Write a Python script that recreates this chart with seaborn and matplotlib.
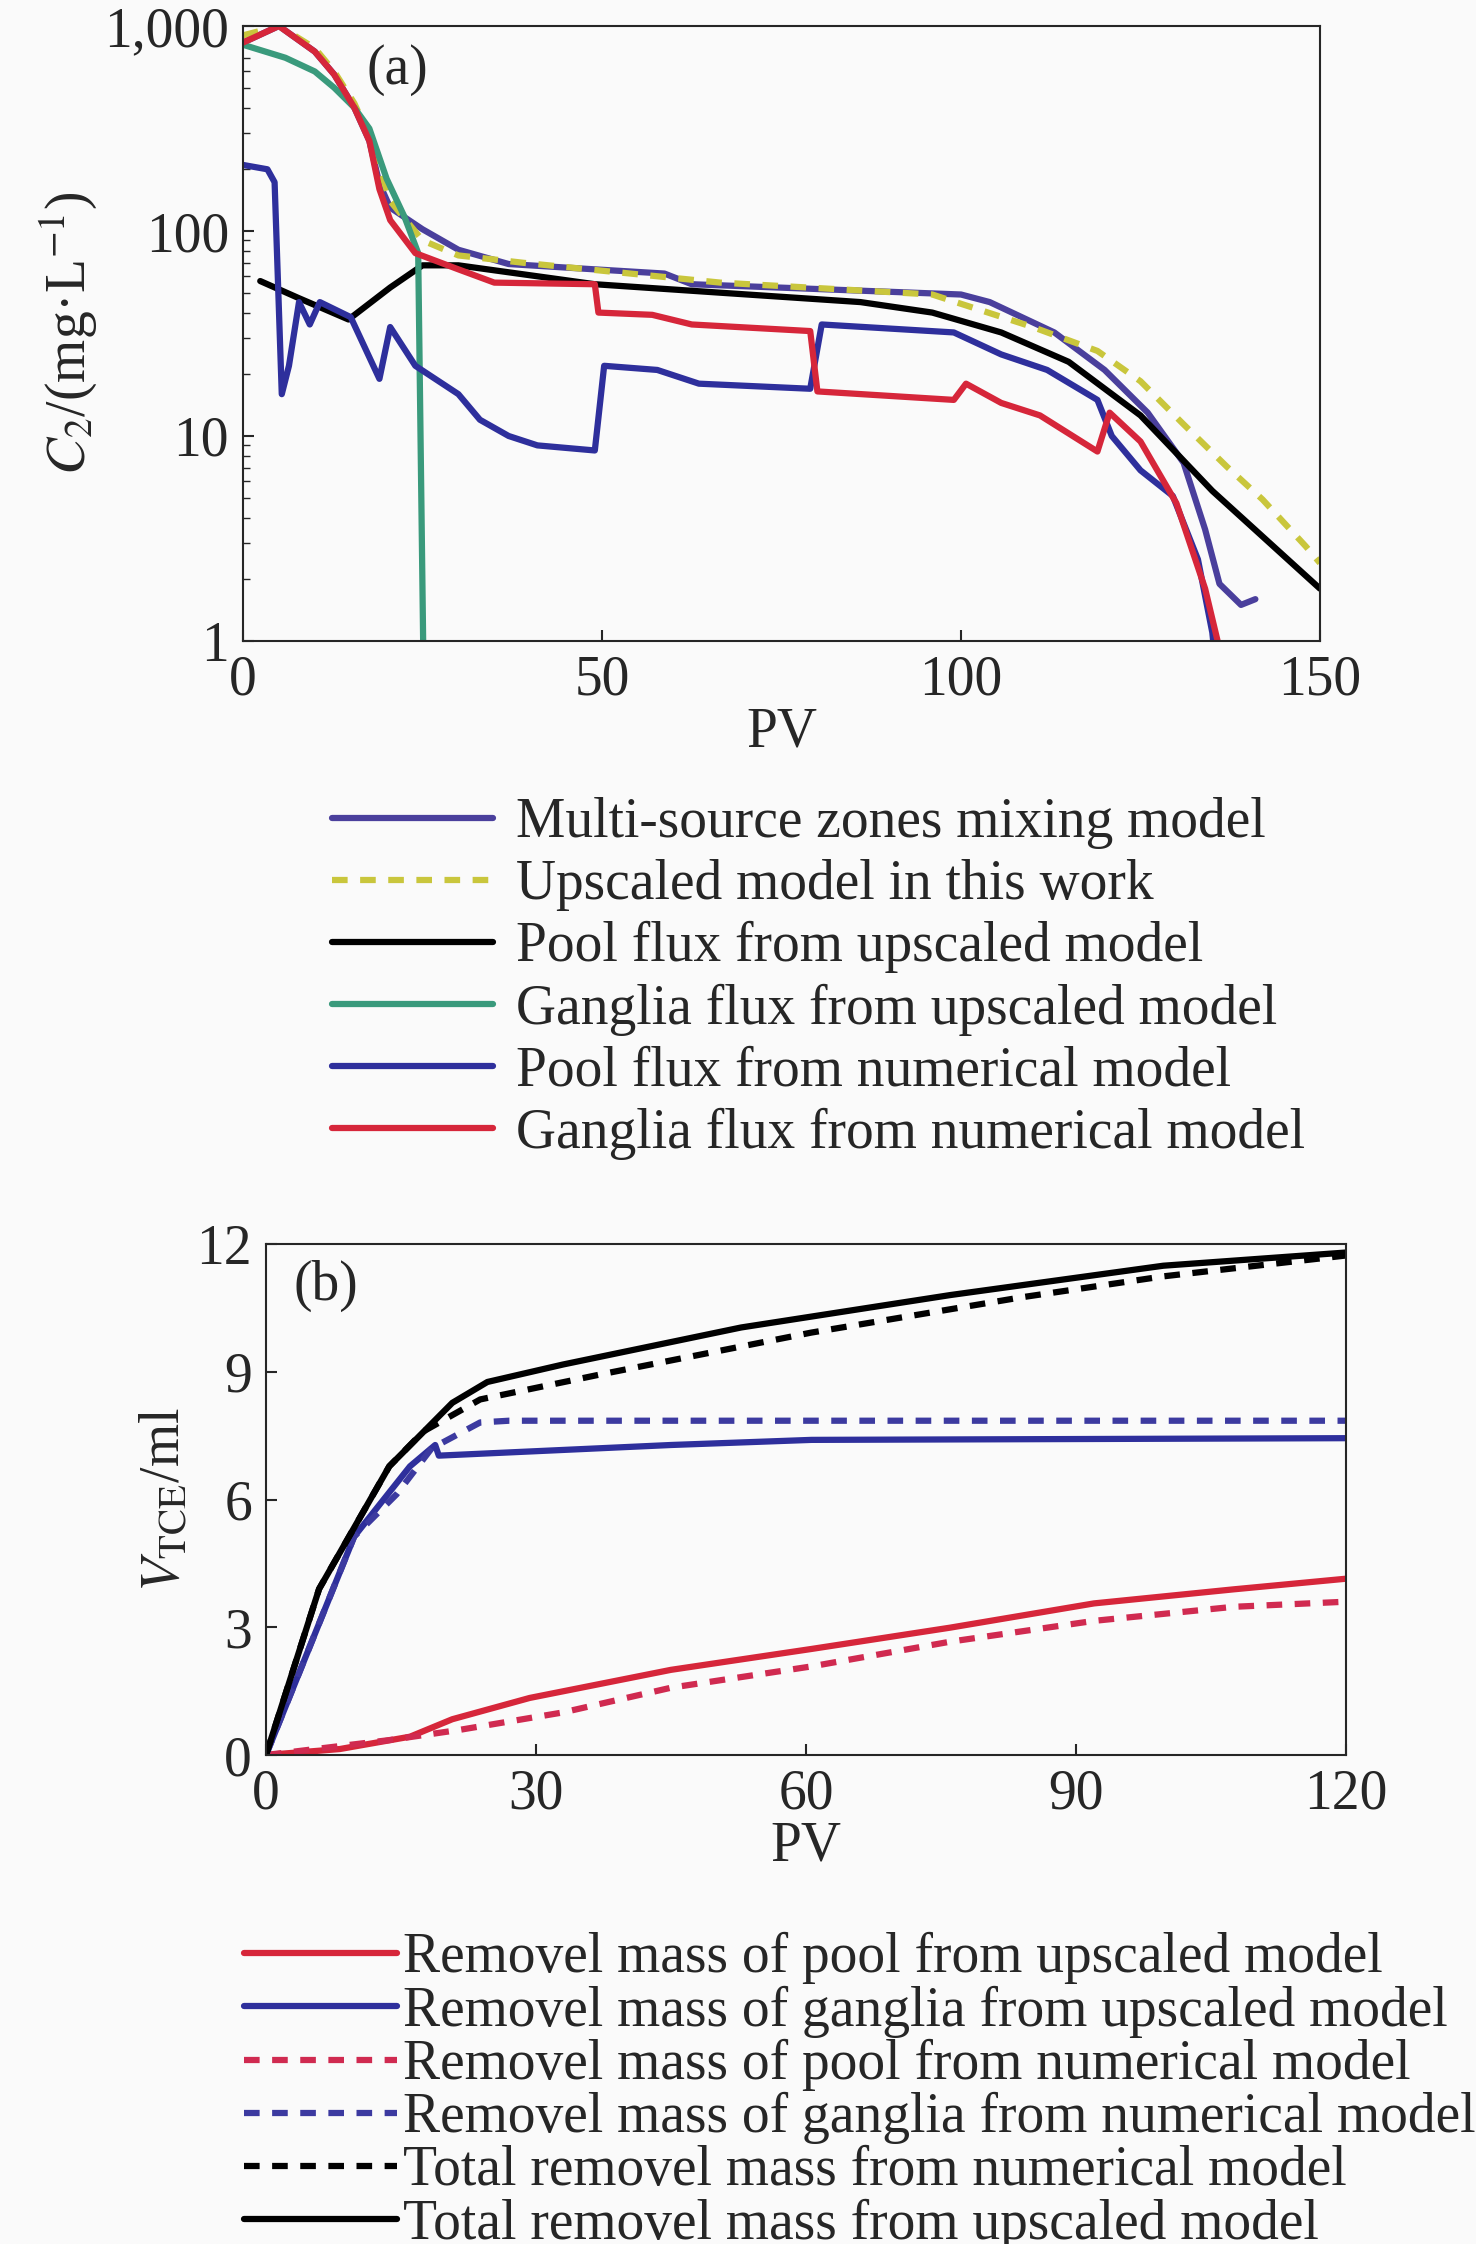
import numpy as np
import seaborn as sns
import matplotlib.pyplot as plt
from matplotlib.ticker import FixedLocator, LogLocator, NullFormatter

sns.set_theme(style="ticks")
plt.rcParams['font.family'] = ['Liberation Serif', 'DejaVu Serif']
plt.rcParams['mathtext.fontset'] = 'stix'

# ---- panel (a) data: PV vs C2 (mg/L) ----
pv_multi = [0, 5, 10, 12.7, 15.5, 17.6, 19, 20.5, 25, 30, 37, 49, 58.7, 62.5, 100, 104, 113, 120, 126, 131, 134, 136, 139, 141]
c_multi = [830, 1000, 750, 580, 400, 275, 170, 130, 102, 81, 69, 65, 62, 55, 49, 45, 32, 21, 13, 7.4, 3.5, 1.9, 1.5, 1.6]
pv_up = [0, 5, 10, 12.7, 15.5, 17.6, 20.5, 25, 30, 39, 66.5, 96, 110, 119, 125, 131, 137, 142, 148, 150]
c_up = [900, 1000, 780, 600, 420, 290, 140, 90, 76, 70, 56, 49, 34, 26, 18.5, 11.4, 7.1, 4.9, 2.9, 2.4]
pv_pool_up = [2.4, 7.8, 14.7, 20.5, 25, 30, 49, 66.5, 86, 96, 105.6, 115, 125, 135, 150]
c_pool_up = [57, 47, 37, 53, 68, 68, 55, 50, 45, 40, 32, 23, 12.6, 5.4, 1.8]
pv_gang_up = [0, 5.9, 10, 12.7, 15.5, 17.6, 20, 22.5, 24.4, 25.2]
c_gang_up = [810, 700, 600, 500, 400, 316, 180, 117, 78, 0.5]
pv_pool_num = [0, 3.4, 4.4, 5.4, 6.4, 7.8, 9.3, 10.7, 15, 19, 20.5, 24, 30, 33, 37, 41, 49, 50.3, 57.7, 63.5,
               79, 80.6, 99, 105.6, 112, 119, 121, 125, 129.5, 133, 135, 136]
c_pool_num = [210, 200, 173, 16, 22, 45, 35, 45, 38, 19, 34, 22, 16, 12, 10, 9, 8.5, 22, 21, 18,
              17, 35, 32, 25, 21, 15, 10, 6.8, 5.1, 2.5, 1.1, 0.5]
pv_gang_num = [0, 5, 10, 12.7, 15.5, 17.6, 19, 20.5, 24, 30, 35, 49, 49.5, 57, 62.5, 79, 80, 99, 100.7, 105.6, 111,
               119, 120.7, 125, 130, 134, 136.4]
c_gang_num = [830, 1000, 750, 580, 400, 275, 160, 113, 78, 65, 56, 55, 40, 39, 35, 32.5, 16.5, 15, 18, 14.5, 12.6,
              8.4, 13, 9.4, 4.7, 1.8, 0.8]

# ---- panel (b) data: PV vs V_TCE (ml) ----
pv_tot_up = [0, 5.9, 13.7, 20.7, 24.6, 33, 52.8, 76, 99.7, 120]
v_tot_up = [0, 3.9, 6.78, 8.27, 8.76, 9.17, 10.04, 10.8, 11.49, 11.8]
pv_tot_num = [0, 5.9, 13.7, 17.5, 23.8, 37, 60.6, 84, 99.7, 120]
v_tot_num = [0, 3.9, 6.78, 7.6, 8.35, 8.93, 9.92, 10.75, 11.24, 11.73]
pv_gang_b_up = [0, 9.8, 16, 18.8, 19.2, 45, 60.6, 120]
v_gang_b_up = [0, 5.13, 6.78, 7.28, 7.03, 7.28, 7.4, 7.44]
pv_gang_b_num = [0, 9.8, 14.5, 18.4, 23.8, 27, 120]
v_gang_b_num = [0, 5.13, 6.12, 7.2, 7.81, 7.85, 7.85]
pv_pool_b_up = [0, 8.2, 16, 20.7, 29.3, 45, 60.6, 76, 92, 107.5, 120]
v_pool_b_up = [0, 0.14, 0.43, 0.84, 1.34, 2.0, 2.49, 2.99, 3.56, 3.89, 4.14]
pv_pool_b_num = [0, 13.7, 21.5, 33, 45, 60.6, 76, 92, 107.5, 120]
v_pool_b_num = [0, 0.35, 0.59, 1.0, 1.58, 2.08, 2.66, 3.15, 3.48, 3.6]

blue = '#2e2f9c'
purple = '#4a3f9c'
yellow = '#c9c63c'
green = '#3a9a7c'
red = '#d6263a'

fig = plt.figure(figsize=(14.76, 22.44), dpi=100)
fig.patch.set_facecolor('#fafafa')
fs = 40
lw = 4.5
dash = (0, (2.5, 2))

# ---------------- panel (a) ----------------
ax1 = fig.add_axes([243 / 1476, 1 - 641 / 2244, 1077 / 1476, 615 / 2244])
ax1.set_facecolor('#fafafa')
sns.lineplot(x=pv_multi, y=c_multi, ax=ax1, color=purple, lw=lw, sort=False, label='Multi-source zones mixing model')
sns.lineplot(x=pv_up, y=c_up, ax=ax1, color=yellow, lw=lw, ls=dash, sort=False, label='Upscaled model in this work')
sns.lineplot(x=pv_pool_up, y=c_pool_up, ax=ax1, color='black', lw=lw, sort=False, label='Pool flux from upscaled model')
sns.lineplot(x=pv_gang_up, y=c_gang_up, ax=ax1, color=green, lw=lw, sort=False, label='Ganglia flux from upscaled model')
sns.lineplot(x=pv_pool_num, y=c_pool_num, ax=ax1, color=blue, lw=lw, sort=False, label='Pool flux from numerical model')
sns.lineplot(x=pv_gang_num, y=c_gang_num, ax=ax1, color=red, lw=lw, sort=False, label='Ganglia flux from numerical model')
ax1.set_yscale('log')
ax1.set_xlim(0, 150)
ax1.set_ylim(1, 1000)
ax1.set_xticks([0, 50, 100, 150])
ax1.set_yticks([1, 10, 100, 1000])
ax1.set_yticklabels(['1', '10', '100', '1,000'])
ax1.yaxis.set_minor_locator(LogLocator(base=10, subs=np.arange(2, 10)))
ax1.yaxis.set_minor_formatter(NullFormatter())
ax1.tick_params(direction='in', labelsize=fs, length=8, width=1.5, pad=10)
ax1.tick_params(which='minor', direction='in', length=5)
ax1.set_xlabel('PV', fontsize=fs, labelpad=0)
ax1.set_ylabel('$C_2$/(mg·L$^{-1}$)', fontsize=fs, labelpad=4)
ax1.text(0.115, 0.97, '(a)', transform=ax1.transAxes, fontsize=fs, va='top')
for s in ax1.spines.values():
    s.set_linewidth(1.5)
ax1.legend(loc='upper left', bbox_to_anchor=(310 / 1476, 1 - 775 / 2244), bbox_transform=fig.transFigure,
           frameon=False, fontsize=fs, handlelength=2.9, handletextpad=0.4, labelspacing=0.18, borderaxespad=0)

# ---------------- panel (b) ----------------
ax2 = fig.add_axes([266 / 1476, 1 - 1755 / 2244, 1080 / 1476, 511 / 2244])
ax2.set_facecolor('#fafafa')
sns.lineplot(x=pv_pool_b_up, y=v_pool_b_up, ax=ax2, color=red, lw=lw, sort=False, label='Removel mass of pool from upscaled model')
sns.lineplot(x=pv_gang_b_up, y=v_gang_b_up, ax=ax2, color=blue, lw=lw, sort=False, label='Removel mass of ganglia from upscaled model')
sns.lineplot(x=pv_pool_b_num, y=v_pool_b_num, ax=ax2, color='#d02a50', lw=lw, ls=dash, sort=False, label='Removel mass of pool from numerical model')
sns.lineplot(x=pv_gang_b_num, y=v_gang_b_num, ax=ax2, color='#3c3aa0', lw=lw, ls=dash, sort=False, label='Removel mass of ganglia from numerical model')
sns.lineplot(x=pv_tot_num, y=v_tot_num, ax=ax2, color='black', lw=lw, ls=dash, sort=False, label='Total removel mass from numerical model')
sns.lineplot(x=pv_tot_up, y=v_tot_up, ax=ax2, color='black', lw=lw, sort=False, label='Total removel mass from upscaled model')
ax2.set_xlim(0, 120)
ax2.set_ylim(0, 12)
ax2.xaxis.set_major_locator(FixedLocator([0, 30, 60, 90, 120]))
ax2.yaxis.set_major_locator(FixedLocator([0, 3, 6, 9, 12]))
ax2.tick_params(direction='in', labelsize=fs, length=8, width=1.5, pad=10)
ax2.set_xlabel('PV', fontsize=fs, labelpad=0)
ax2.set_ylabel('$V_{\\mathrm{TCE}}$/ml', fontsize=fs)
ax2.text(0.025, 0.97, '(b)', transform=ax2.transAxes, fontsize=fs, va='top')
for s in ax2.spines.values():
    s.set_linewidth(1.5)
ax2.legend(loc='upper left', bbox_to_anchor=(222 / 1476, 1 - 1910 / 2244), bbox_transform=fig.transFigure,
           frameon=False, fontsize=fs, handlelength=2.75, handletextpad=0.1, labelspacing=0.02, borderaxespad=0)

fig.savefig('out.png', dpi=100, facecolor=fig.get_facecolor())
